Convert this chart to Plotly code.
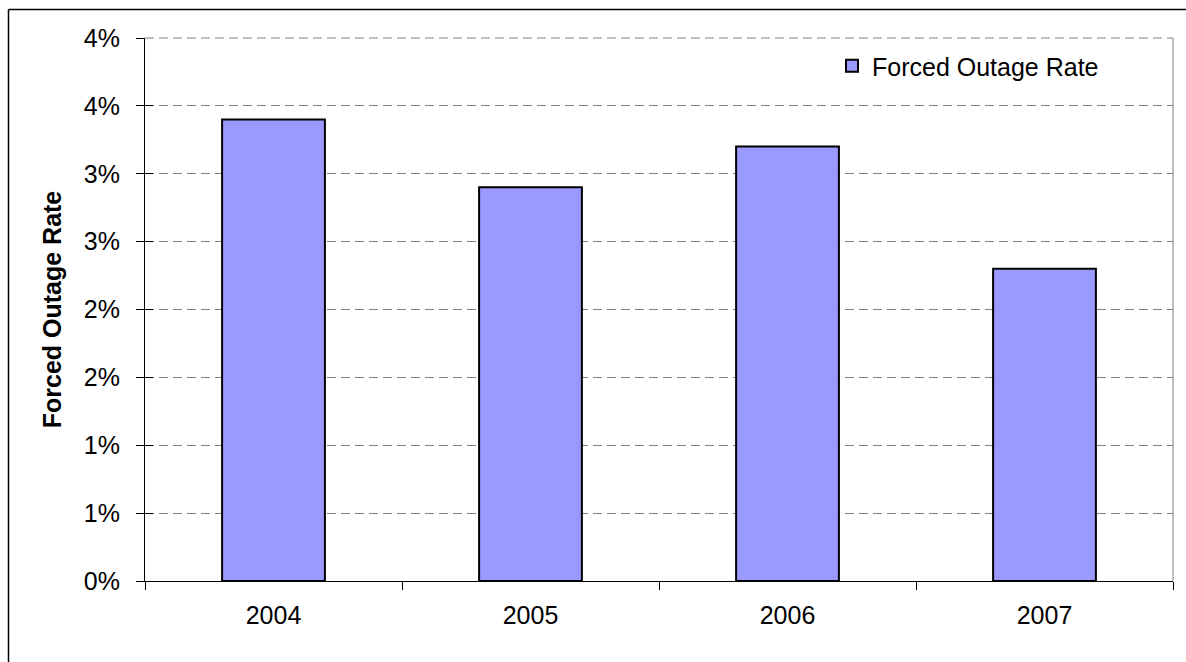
import plotly.graph_objects as go

# Annual forced outage rate (percent)
years = ["2004", "2005", "2006", "2007"]
outage_rate = [3.4, 2.9, 3.2, 2.3]

# Axis ticks every half percent, labelled as whole percents
y_tick_vals = [0, 0.5, 1.0, 1.5, 2.0, 2.5, 3.0, 3.5, 4.0]
y_tick_text = ["0%", "1%", "1%", "2%", "2%", "3%", "3%", "4%", "4%"]

FONT = "Liberation Sans, Arial, sans-serif"

fig = go.Figure()
fig.add_trace(go.Bar(
    x=years,
    y=outage_rate,
    name="Forced Outage Rate",
    marker=dict(color="#9999FF", line=dict(color="black", width=2)),
))
# empty trace carrying the inner half of the crossing y ticks
fig.add_trace(go.Scatter(x=[], y=[], yaxis="y2", showlegend=False, hoverinfo="skip"))

L, R, T, B = 145, 13, 38, 81
W, H = 1186, 662
pw, ph = W - L - R, H - T - B


def px_x(x):
    return (x - L) / pw


def px_y(y):
    return (H - B - y) / ph


fig.update_layout(
    width=W,
    height=H,
    margin=dict(l=L, r=R, t=T, b=B, autoexpand=False),
    paper_bgcolor="white",
    plot_bgcolor="white",
    font=dict(family=FONT, size=25, color="black"),
    bargap=0.6,
    showlegend=True,
    legend=dict(
        x=px_x(832), y=px_y(66), xanchor="left", yanchor="middle",
        bgcolor="rgba(0,0,0,0)", font=dict(family=FONT, size=25, color="black"),
    ),
    xaxis=dict(
        type="category",
        showline=True, linecolor="black", linewidth=1,
        ticks="outside", tickson="boundaries", ticklen=8, tickcolor="black",
        ticklabelstandoff=12,
        showgrid=False, tickfont=dict(family=FONT, size=25, color="black"),
    ),
    yaxis=dict(
        range=[0, 4],
        tickmode="array", tickvals=y_tick_vals, ticktext=y_tick_text,
        showline=True, linecolor="black", linewidth=1,
        ticks="outside", ticklen=8, tickcolor="black",
        ticklabelstandoff=11,
        showgrid=True, gridcolor="#808080", gridwidth=1, griddash="9px,5px",
        zeroline=False,
        tickfont=dict(family=FONT, size=25, color="black"),
        title=dict(text="<b>Forced Outage Rate</b>", standoff=15,
                   font=dict(family=FONT, size=25, color="black")),
    ),
    yaxis2=dict(
        overlaying="y", side="left", anchor="x",
        range=[0, 4],
        tickmode="array", tickvals=y_tick_vals,
        ticks="inside", ticklen=8, tickcolor="black",
        showticklabels=False, showgrid=False, showline=False, zeroline=False,
    ),
    shapes=[
        # dashed gridline along the top edge of the plotting area
        dict(type="line", xref="paper", yref="paper", x0=0, x1=1, y0=1, y1=1,
             line=dict(color="#808080", width=1, dash="9px,5px")),
        # right edge of the plotting area
        dict(type="line", xref="paper", yref="paper", x0=1, x1=1, y0=0, y1=1,
             line=dict(color="#808080", width=1)),
        # frame around the chart: top and left edges
        dict(type="line", xref="paper", yref="paper",
             x0=px_x(8.5), x1=px_x(1200), y0=px_y(9.5), y1=px_y(9.5),
             line=dict(color="black", width=1.5)),
        dict(type="line", xref="paper", yref="paper",
             x0=px_x(8.5), x1=px_x(8.5), y0=px_y(9.5), y1=px_y(700),
             line=dict(color="black", width=1.5)),
    ],
)

fig.write_html("out.html")
